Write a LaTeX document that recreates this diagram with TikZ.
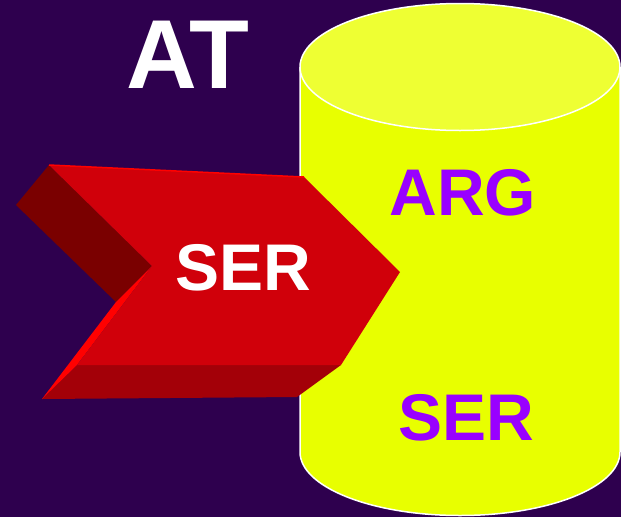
\documentclass[tikz,border=0pt]{standalone}
\usepackage{fontspec}
\setmainfont{Liberation Sans}
\definecolor{night}{HTML}{2E004E}
\definecolor{lemon}{HTML}{E8FF00}
\definecolor{lemontop}{HTML}{EEFF33}
\definecolor{violet}{HTML}{9900FF}
\definecolor{redfront}{HTML}{D0000A}
\definecolor{redside}{HTML}{7A0000}
\definecolor{redbottom}{HTML}{A30008}
\definecolor{redlight}{HTML}{FF0000}
\tikzset{
  word/.style={inner sep=0pt, font=\bfseries\fontsize{66}{70}\selectfont},
  drum/.style={draw=white, line width=1.5pt}
}
\begin{document}
\begin{tikzpicture}[x=1pt,y=-1pt]
				\def\drumw{160}
				\def\drumh{63.5}
				\fill[night] (0,0) rectangle (621,517);
				\useasboundingbox (0,0) rectangle (621,517);
				\coordinate (topc) at (460,67);
				\coordinate (botc) at (460,452);
				\draw[drum, fill=lemon] ([xshift=-\drumw pt]topc) -- ([xshift=-\drumw pt]botc) arc[start angle=180, end angle=0, x radius=\drumw, y radius=\drumh] -- ([xshift=\drumw pt]topc);
				\draw[drum, fill=lemontop] (topc) ellipse[x radius=\drumw, y radius=\drumh];
				
				\coordinate (tl) at (49,165);
				\coordinate (tr) at (304,177);
				\coordinate (tip) at (400,272);
				\coordinate (br) at (341,365);
				\coordinate (bl) at (77,365);
				\coordinate (notch) at (152,266);
				\coordinate (btl) at (16,205);
				\coordinate (bnotch) at (116,302);
				\coordinate (bbl) at (42,399);
				\coordinate (bbr) at (297,397);
				\fill[redbottom] (bl) -- (br) -- (bbr) -- (bbl) -- cycle;
				\fill[redside] (tl) -- (btl) -- (bnotch) -- (notch) -- cycle;
				\fill[redlight] (notch) -- (bnotch) -- (bbl) -- (bl) -- cycle;
				\fill[redfront] (tl) -- (tr) -- (tip) -- (br) -- (bl) -- (notch) -- cycle;
				\draw[redlight, line width=1.5pt] (tl) -- (tr);
				
				\node[word, white, font=\bfseries\fontsize{98}{100}\selectfont] (title) at (188,55) {AT};
				\node[word, white] (arrowlbl) at (243,268) {SER};
				\node[word, violet] (arg) at (463,193) {ARG};
				\node[word, violet] (ser) at (466,418) {SER};
			\end{tikzpicture}
\end{document}
